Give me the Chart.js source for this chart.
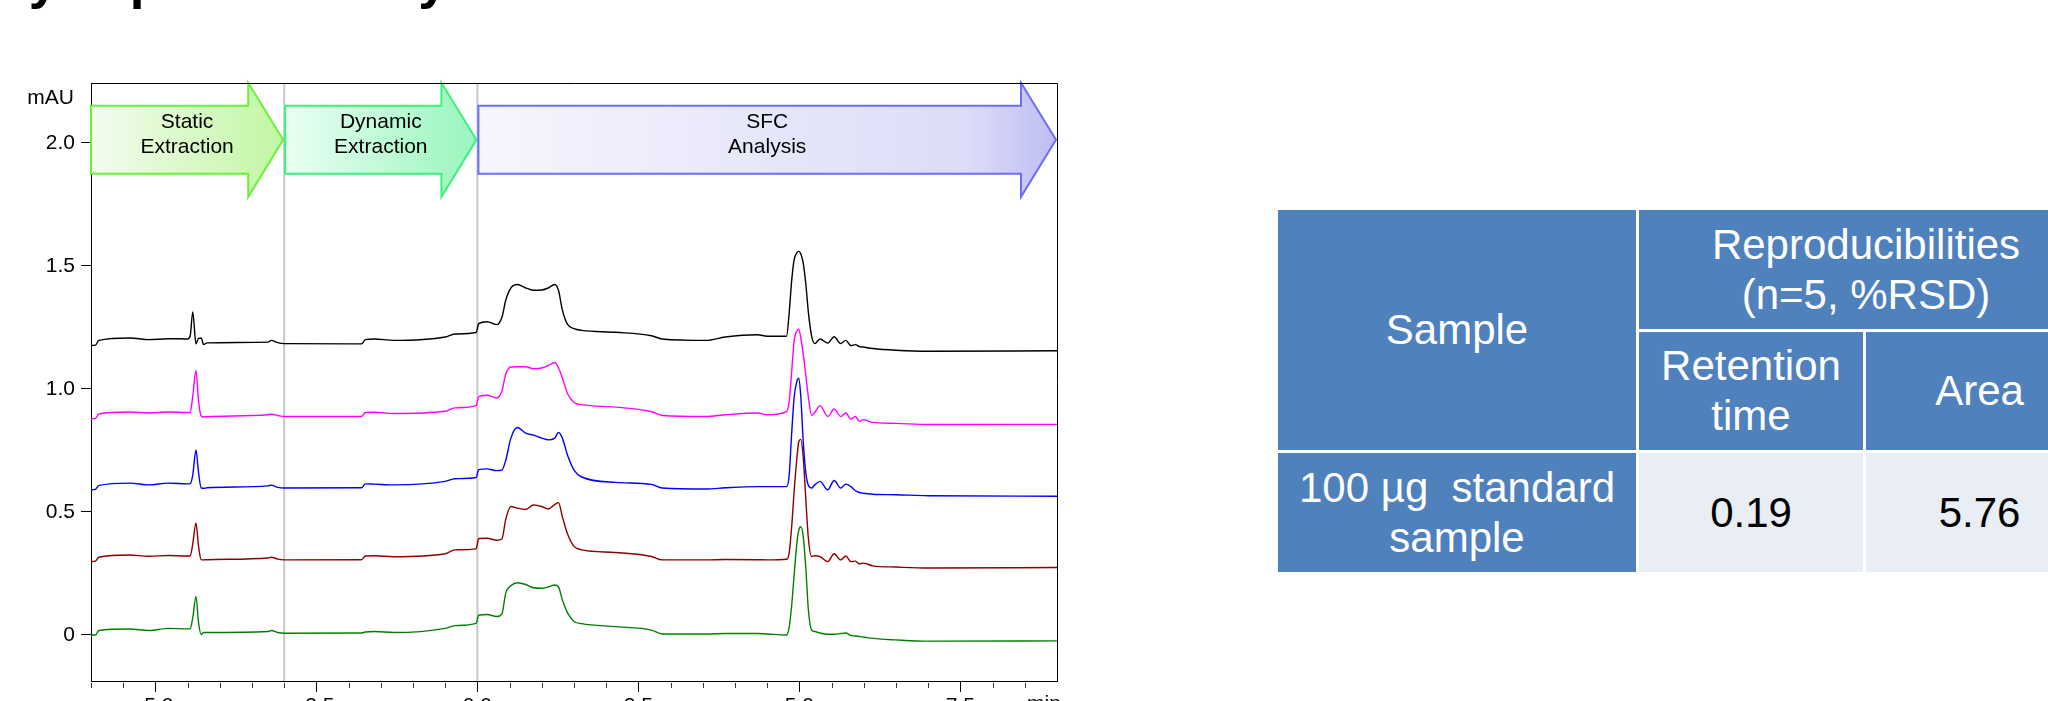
<!DOCTYPE html>
<html>
<head>
<meta charset="utf-8">
<script src="https://cdn.jsdelivr.net/npm/chart.js@4.4.1/dist/chart.umd.min.js"></script>
<style>
  html, body { margin: 0; padding: 0; background: #fff; }
  body { width: 2048px; height: 701px; overflow: hidden; position: relative; font-family: "Liberation Sans", Arial, sans-serif; }
  #chartBox { position: absolute; left: 0; top: 0; width: 1100px; height: 701px; }
  #title { position: absolute; top: -47px; left: 0; font-weight: bold; font-size: 53px; line-height: 53px; white-space: nowrap; word-spacing: -11px; color: #000; }
  .cell { position: absolute; display: flex; align-items: center; justify-content: center; text-align: center; white-space: pre; font-size: 42px; line-height: 50px; color: #fff; background: #4f81bd; }
  .cell.value { background: #e9edf4; color: #000; }
</style>
</head>
<body>
<div id="title"><span id="titlePre">Stability </span>Reproducibility</div>
<div id="chartBox"><canvas id="chrom" width="1100" height="701"></canvas></div>
<div id="table"></div>
<script>
// --- chromatogram data (min, mAU) ---
const times = [
  -6.0, -5.93, -5.88, -5.4, -5.1, -4.8, -4.5, -4.46, -4.42, -4.37,
  -4.33, -4.29, -4.25, -4.2, -3.25, -3.2, -3.1, -3.0, -1.8, -1.74,
  -1.6, -1.3, -0.5, -0.35, -0.02, 0.02, 0.15, 0.3, 0.38, 0.44,
  0.52, 0.62, 0.75, 0.87, 1.0, 1.1, 1.2, 1.26, 1.32, 1.4,
  1.5, 1.62, 2.15, 2.7, 2.87, 3.55, 3.85, 4.35, 4.5, 4.8,
  4.84, 4.88, 4.92, 4.96, 4.99, 5.02, 5.06, 5.1, 5.14, 5.19,
  5.24, 5.32, 5.44, 5.54, 5.64, 5.72, 5.8, 5.87, 5.93, 5.99,
  6.14, 6.5, 7.0, 9.0
];
const run1 = [
  1.177, 1.178, 1.197, 1.207, 1.200, 1.204, 1.203, 1.215, 1.313, 1.183,
  1.205, 1.207, 1.180, 1.187, 1.190, 1.197, 1.188, 1.184, 1.183, 1.200,
  1.203, 1.197, 1.211, 1.223, 1.229, 1.265, 1.273, 1.261, 1.290, 1.360,
  1.410, 1.424, 1.410, 1.401, 1.402, 1.410, 1.424, 1.400, 1.320, 1.262,
  1.245, 1.238, 1.230, 1.216, 1.203, 1.197, 1.211, 1.220, 1.214, 1.214,
  1.305, 1.440, 1.527, 1.553, 1.559, 1.550, 1.510, 1.425, 1.310, 1.214,
  1.184, 1.203, 1.186, 1.212, 1.184, 1.197, 1.176, 1.180, 1.172, 1.170,
  1.164, 1.157, 1.153, 1.155
];
const run2 = [
  0.878, 0.880, 0.898, 0.906, 0.902, 0.906, 0.904, 0.905, 0.970, 1.075,
  0.950, 0.890, 0.886, 0.887, 0.895, 0.897, 0.892, 0.888, 0.888, 0.904,
  0.905, 0.900, 0.909, 0.923, 0.932, 0.969, 0.974, 0.963, 0.990, 1.060,
  1.089, 1.090, 1.090, 1.082, 1.085, 1.095, 1.107, 1.085, 1.044, 0.980,
  0.945, 0.936, 0.926, 0.908, 0.892, 0.888, 0.895, 0.902, 0.895, 0.908,
  0.945, 1.070, 1.200, 1.235, 1.243, 1.210, 1.140, 1.055, 0.965, 0.892,
  0.905, 0.932, 0.888, 0.918, 0.888, 0.902, 0.877, 0.888, 0.868, 0.875,
  0.864, 0.860, 0.855, 0.856
];
const run3 = [
  0.590, 0.592, 0.607, 0.617, 0.610, 0.617, 0.614, 0.615, 0.650, 0.752,
  0.660, 0.598, 0.596, 0.598, 0.606, 0.609, 0.600, 0.597, 0.598, 0.614,
  0.613, 0.610, 0.624, 0.635, 0.640, 0.672, 0.675, 0.668, 0.670, 0.710,
  0.800, 0.843, 0.820, 0.812, 0.800, 0.793, 0.800, 0.823, 0.800, 0.730,
  0.670, 0.642, 0.620, 0.612, 0.597, 0.593, 0.598, 0.603, 0.603, 0.603,
  0.645, 0.820, 0.970, 1.030, 1.043, 0.975, 0.785, 0.658, 0.608, 0.597,
  0.610, 0.624, 0.590, 0.628, 0.597, 0.613, 0.603, 0.586, 0.579, 0.576,
  0.572, 0.570, 0.566, 0.564
];
const run4 = [
  0.298, 0.300, 0.316, 0.325, 0.320, 0.323, 0.321, 0.322, 0.370, 0.455,
  0.360, 0.306, 0.305, 0.306, 0.313, 0.316, 0.308, 0.305, 0.306, 0.321,
  0.322, 0.318, 0.330, 0.346, 0.350, 0.392, 0.393, 0.385, 0.390, 0.470,
  0.522, 0.515, 0.510, 0.528, 0.522, 0.512, 0.530, 0.538, 0.480, 0.410,
  0.360, 0.346, 0.335, 0.319, 0.305, 0.305, 0.307, 0.306, 0.305, 0.308,
  0.332, 0.440, 0.590, 0.715, 0.785, 0.795, 0.720, 0.550, 0.390, 0.319,
  0.322, 0.318, 0.298, 0.330, 0.305, 0.321, 0.298, 0.300, 0.289, 0.292,
  0.281, 0.276, 0.272, 0.274
];
const run5 = [
  0.000, 0.000, 0.018, 0.024, 0.018, 0.027, 0.025, 0.026, 0.070, 0.157,
  0.050, 0.002, 0.010, 0.010, 0.014, 0.018, 0.010, 0.007, 0.008, 0.012,
  0.014, 0.010, 0.027, 0.038, 0.047, 0.080, 0.083, 0.075, 0.085, 0.170,
  0.200, 0.212, 0.205, 0.192, 0.190, 0.195, 0.203, 0.195, 0.142, 0.090,
  0.055, 0.046, 0.034, 0.020, 0.004, 0.004, 0.006, 0.006, 0.004, 0.000,
  0.030, 0.120, 0.250, 0.370, 0.425, 0.440, 0.400, 0.270, 0.100, 0.020,
  0.014, 0.008, 0.003, 0.003, 0.006, 0.008, -0.002, -0.004, -0.006, -0.008,
  -0.014, -0.020, -0.025, -0.024
];

// --- axes ---
const yTicks = [0, 0.5, 1.0, 1.5, 2.0];
const xTicks = [-5, -2.5, 0, 2.5, 5, 7.5];
const xMinorTicks = [-6, -5.5, -4.5, -4, -3.5, -3, -2, -1.5, -1, -0.5, 0.5, 1, 1.5, 2, 3, 3.5, 4, 4.5, 5.5, 6, 6.5, 7, 8, 8.5];
const yUnit = 'mAU';
const xUnit = 'min';

// --- process phases ---
const phaseNames = [['Static', 'Extraction'], ['Dynamic', 'Extraction'], ['SFC', 'Analysis']];
const phaseFrom = [-6, -3, 0];
const phaseTo = [-3, 0, 9];
const phaseBounds = [-3, 0];
const arrowLevel = 2.012;

// --- table ---
const tableHead = ['Sample', 'Reproducibilities\n(n=5, %RSD)', 'Retention\ntime', 'Area'];
const sampleNames = ['100 µg  standard\nsample'];
const rsdRetention = ['0.19'];
const rsdArea = ['5.76'];

const FONT = '"Liberation Sans", Arial, sans-serif';
Chart.defaults.font.family = FONT;
Chart.defaults.color = '#000';

const arrowFills = [
  [[0, '#f3fcef'], [1, '#c2f7a2']],
  [[0, '#eafff2'], [1, '#98f6bd']],
  [[0, '#f6f6fe'], [0.85, '#dcdcf8'], [1, '#bdbdf4']]
];
const arrowEdges = ['#6cf03a', '#3cf07a', '#6e6ef5'];

const overlay = {
  id: 'overlay',
  beforeDatasetsDraw(chart) {
    const { ctx, chartArea: area, scales: { x, y } } = chart;
    ctx.save();
    // phase boundaries
    ctx.strokeStyle = '#c8c8c8';
    ctx.lineWidth = 2;
    phaseBounds.forEach((v) => {
      const px = x.getPixelForValue(v);
      ctx.beginPath();
      ctx.moveTo(px, area.top);
      ctx.lineTo(px, area.bottom);
      ctx.stroke();
    });
    // phase arrows
    const yc = y.getPixelForValue(arrowLevel);
    phaseNames.forEach((name, i) => {
      const x0 = x.getPixelForValue(phaseFrom[i]) + (i ? 1 : 0);
      const xt = x.getPixelForValue(phaseTo[i]) - 1;
      const xb = xt - 35;
      ctx.beginPath();
      ctx.moveTo(x0, yc - 34);
      ctx.lineTo(xb, yc - 34);
      ctx.lineTo(xb, yc - 57);
      ctx.lineTo(xt, yc);
      ctx.lineTo(xb, yc + 57);
      ctx.lineTo(xb, yc + 34);
      ctx.lineTo(x0, yc + 34);
      ctx.closePath();
      const g = ctx.createLinearGradient(x0, 0, xt, 0);
      arrowFills[i].forEach(([s, c]) => g.addColorStop(s, c));
      ctx.fillStyle = g;
      ctx.fill();
      ctx.strokeStyle = arrowEdges[i];
      ctx.lineWidth = 2;
      ctx.stroke();

      ctx.fillStyle = '#000';
      ctx.font = '21px ' + FONT;
      ctx.textAlign = 'center';
      ctx.textBaseline = 'middle';
      const cx = (x0 + xt) / 2;
      ctx.fillText(name[0], cx, yc - 18);
      ctx.fillText(name[1], cx, yc + 7.5);
    });
    ctx.restore();
  },
  afterDraw(chart) {
    const { ctx, chartArea: area, scales: { x } } = chart;
    ctx.save();
    // top and right frame
    ctx.strokeStyle = '#000';
    ctx.lineWidth = 1;
    ctx.beginPath();
    ctx.moveTo(Math.round(area.left) + 0.5, Math.round(area.top) + 0.5);
    ctx.lineTo(Math.round(area.right) + 0.5, Math.round(area.top) + 0.5);
    ctx.lineTo(Math.round(area.right) + 0.5, Math.round(area.bottom) + 0.5);
    ctx.stroke();
    // minor ticks
    ctx.strokeStyle = '#333';
    xMinorTicks.forEach((v) => {
      const px = Math.round(x.getPixelForValue(v)) + 0.5;
      ctx.beginPath();
      ctx.moveTo(px, area.bottom + 2);
      ctx.lineTo(px, area.bottom + 7);
      ctx.stroke();
    });
    // unit labels
    ctx.fillStyle = '#000';
    ctx.font = '21px ' + FONT;
    ctx.textAlign = 'right';
    ctx.textBaseline = 'middle';
    ctx.fillText(yUnit, 74, 98);
    ctx.textAlign = 'left';
    ctx.textBaseline = 'top';
    ctx.fillText(xUnit, 1027, area.bottom + 13);
    ctx.restore();
  }
};

const toPoints = (vals) => times.map((t, i) => ({ x: t, y: vals[i] }));
const lineStyle = { borderWidth: 1.4, pointRadius: 0, cubicInterpolationMode: 'monotone', fill: false };

new Chart(document.getElementById('chrom'), {
  type: 'line',
  data: {
    datasets: [
      { label: 'Run 1', data: toPoints(run1), borderColor: '#000000', ...lineStyle },
      { label: 'Run 2', data: toPoints(run2), borderColor: '#ff00ff', ...lineStyle },
      { label: 'Run 3', data: toPoints(run3), borderColor: '#0000ff', ...lineStyle },
      { label: 'Run 4', data: toPoints(run4), borderColor: '#8b0000', ...lineStyle },
      { label: 'Run 5', data: toPoints(run5), borderColor: '#008000', ...lineStyle }
    ]
  },
  options: {
    responsive: false,
    animation: false,
    devicePixelRatio: 1,
    layout: { padding: { top: 83, right: 43, left: 0, bottom: 0 } },
    plugins: { legend: { display: false }, tooltip: { enabled: false } },
    scales: {
      x: {
        type: 'linear',
        min: -6,
        max: 9,
        afterBuildTicks: (s) => { s.ticks = xTicks.map((v) => ({ value: v })); },
        afterFit: (s) => { s.height = 20; },
        ticks: { callback: (v) => v.toFixed(1), font: { size: 21 }, padding: 2, maxRotation: 0, autoSkip: false },
        grid: { drawOnChartArea: false, tickLength: 11, tickColor: '#000', tickWidth: 1 },
        border: { color: '#000', width: 1 }
      },
      y: {
        min: -0.187,
        max: 2.243,
        afterBuildTicks: (s) => { s.ticks = yTicks.map((v) => ({ value: v })); },
        afterFit: (s) => { s.width = 91; },
        ticks: { callback: (v) => (v === 0 ? '0' : v.toFixed(1)), font: { size: 21 }, padding: 6 },
        grid: { drawOnChartArea: false, tickLength: 10, tickColor: '#000', tickWidth: 1 },
        border: { color: '#000', width: 1 }
      }
    }
  },
  plugins: [overlay]
});

// --- results table ---
const cells = [
  { text: tableHead[0], x: 1278, y: 210, w: 358, h: 240 },
  { text: tableHead[1], x: 1639, y: 210, w: 454, h: 119 },
  { text: tableHead[2], x: 1639, y: 332, w: 224, h: 118 },
  { text: tableHead[3], x: 1866, y: 332, w: 227, h: 118 },
  { text: sampleNames[0], x: 1278, y: 453, w: 358, h: 119 },
  { text: rsdRetention[0], x: 1639, y: 453, w: 224, h: 119, value: true },
  { text: rsdArea[0], x: 1866, y: 453, w: 227, h: 119, value: true }
];
const table = document.getElementById('table');
cells.forEach((c) => {
  const d = document.createElement('div');
  d.className = 'cell' + (c.value ? ' value' : '');
  d.style.left = c.x + 'px';
  d.style.top = c.y + 'px';
  d.style.width = c.w + 'px';
  d.style.height = c.h + 'px';
  d.textContent = c.text;
  table.appendChild(d);
});

// title: only the descenders show above the top edge
const title = document.getElementById('title');
title.style.left = (62 - document.getElementById('titlePre').getBoundingClientRect().width) + 'px';
</script>
</body>
</html>
